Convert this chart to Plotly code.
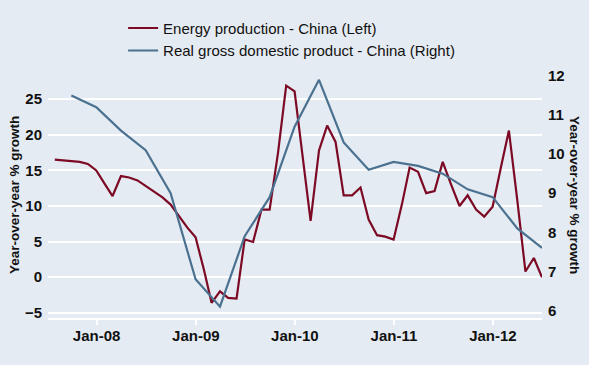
import pandas as pd
import plotly.graph_objects as go

# Monthly energy production, year-over-year % growth (Jul-2007 .. Jun-2012)
energy_start, energy_end = "2007-07", "2012-06"
energy_values = [
    16.5, 16.4, 16.4, 16.2, 15.9, 15.0,                                  # 2007 Jul-Dec
    13.1, 11.4, 14.2, 14.0, 13.6, 12.8, 12.0, 11.2, 10.2, 8.5, 7.0, 5.6,  # 2008
    1.0, -3.6, -2.0, -2.9, -3.0, 5.3, 4.95, 9.5, 9.5, 17.5, 26.9, 26.1,   # 2009
    16.8, 7.9, 17.8, 21.3, 19.0, 11.5, 11.5, 12.6, 8.1, 5.9, 5.7, 5.3,    # 2010
    10.3, 15.4, 14.8, 11.8, 12.1, 16.2, 13.0, 10.0, 11.5, 9.5, 8.5, 9.9,  # 2011
    15.5, 20.6, 10.8, 0.8, 2.7, 0.0,                                      # 2012 Jan-Jun
]

# Quarterly real GDP, year-over-year % growth (2007Q3 .. 2012Q2)
gdp_start, gdp_end = "2007Q3", "2012Q2"
gdp_values = [11.5, 11.2, 10.6, 10.1, 9.0, 6.8, 6.1, 7.9, 8.9, 10.7,
              11.9, 10.3, 9.6, 9.8, 9.7, 9.5, 9.1, 8.9, 8.1, 7.6]

x_tick_years = [2008, 2009, 2010, 2011, 2012]
x_tick_labels = ["Jan-08", "Jan-09", "Jan-10", "Jan-11", "Jan-12"]
left_ticks = [-5, 0, 5, 10, 15, 20, 25]
right_ticks = [6, 7, 8, 9, 10, 11, 12]

energy_name = "Energy production - China (Left)"
gdp_name = "Real gross domestic product - China (Right)"
axis_title = "Year-over-year % growth"

energy_dates = pd.period_range(energy_start, energy_end, freq="M").end_time.normalize()
gdp_dates = pd.period_range(gdp_start, gdp_end, freq="Q").end_time.normalize()

BG = "#E5EBF2"
RED = "#7C0A25"
BLUE = "#4A7190"
TXT = "#111111"
FONT = "Liberation Sans"

fig = go.Figure()
fig.add_trace(go.Scatter(x=energy_dates, y=energy_values, name=energy_name,
                         mode="lines", line=dict(color=RED, width=2.2), yaxis="y"))
fig.add_trace(go.Scatter(x=gdp_dates, y=gdp_values, name=gdp_name,
                         mode="lines", line=dict(color=BLUE, width=2.2), yaxis="y2"))

fig.update_layout(
    width=589, height=365,
    margin=dict(l=48, r=47, t=65, b=47),
    paper_bgcolor=BG, plot_bgcolor=BG,
    font=dict(family=FONT, color=TXT),
    showlegend=True,
    legend=dict(x=0.152, y=1.245, xanchor="left", yanchor="top",
                bgcolor="rgba(0,0,0,0)", borderwidth=0,
                font=dict(size=15, family=FONT, color=TXT),
                itemwidth=30, tracegroupgap=0),
    xaxis=dict(
        range=["2007-07-06", "2012-06-30"],
        tickvals=[f"{y}-01-01" for y in x_tick_years],
        ticktext=x_tick_labels,
        showgrid=False, zeroline=False,
        showline=True, linecolor="white", linewidth=2,
        ticks="outside", ticklen=5, tickwidth=2, tickcolor="white",
        ticklabelstandoff=-2,
        tickfont=dict(size=15, weight="bold", family=FONT, color=TXT),
    ),
    yaxis=dict(
        range=[-5.73, 28.82],
        tickvals=left_ticks,
        showgrid=True, gridcolor="white", gridwidth=1.5,
        zeroline=False, showline=False, ticks="",
        ticklabelstandoff=5,
        tickfont=dict(size=15, weight="bold", family=FONT, color=TXT),
    ),
    yaxis2=dict(
        range=[5.81, 12.10],
        tickvals=right_ticks,
        overlaying="y", side="right",
        showgrid=False, zeroline=False, showline=False, ticks="",
        ticklabelstandoff=5,
        tickfont=dict(size=15, weight="bold", family=FONT, color=TXT),
    ),
    annotations=[
        dict(text=axis_title, textangle=-90, xref="paper", yref="paper",
             x=-34 / 494, y=0.5, xanchor="center", yanchor="middle",
             showarrow=False, font=dict(size=13.5, weight="bold", family=FONT, color=TXT)),
        dict(text=axis_title, textangle=90, xref="paper", yref="paper",
             x=1 + 33 / 494, y=0.5, xanchor="center", yanchor="middle",
             showarrow=False, font=dict(size=13.5, weight="bold", family=FONT, color=TXT)),
    ],
)

fig.write_html("out.html",
               config={"displayModeBar": False},
               post_script="document.body.style.margin='0';document.body.style.padding='0';")
